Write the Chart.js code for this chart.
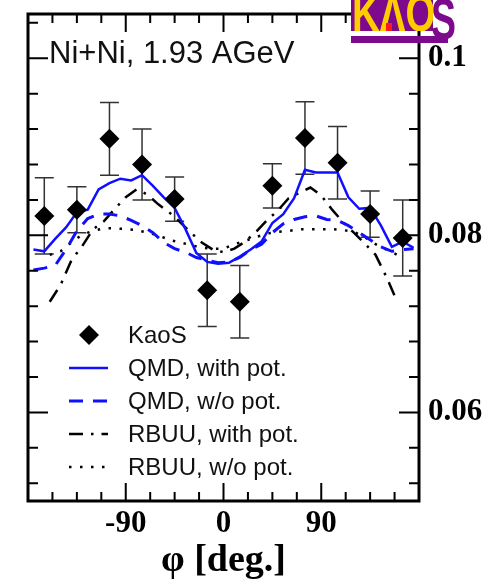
<!DOCTYPE html>
<html><head><meta charset="utf-8">
<script src="https://cdn.jsdelivr.net/npm/chart.js@4.4.0/dist/chart.umd.min.js"></script>
<style>html,body{margin:0;padding:0;background:#fff;} #c{display:block;}</style>
</head><body>
<canvas id="c" width="487" height="584"></canvas>
<script>
// ---- data ----
const phiKaoS = [-165,-135,-105,-75,-45,-15,15,45,75,105,135,165];
const kaosValues = [0.0822,0.0829,0.0909,0.0880,0.0841,0.0738,0.0725,0.0856,0.0910,0.0882,0.0824,0.0797];
const kaosErrors = [0.0043,0.0026,0.0041,0.0040,0.0025,0.0041,0.0041,0.0025,0.0041,0.0041,0.0026,0.0043];

const phiQMD = [-175,-165,-155,-145,-135,-125,-115,-105,-95,-85,-75,-65,-55,-45,-35,-25,-15,-5,5,15,25,35,45,55,65,75,85,95,105,115,125,135,145,155,165,175];
const qmdWithPot = [0.0784,0.0782,0.0796,0.0809,0.0826,0.0829,0.0852,0.0859,0.0864,0.0862,0.0868,0.0856,0.0843,0.0831,0.0807,0.0780,0.0770,0.0768,0.0769,0.0776,0.0784,0.0793,0.0814,0.0824,0.0842,0.0874,0.0871,0.0871,0.0871,0.0843,0.0830,0.0831,0.0811,0.0787,0.0793,0.0786];
const qmdWithoutPot = [0.0761,0.0763,0.0766,0.0784,0.0805,0.0819,0.0824,0.0824,0.0822,0.0817,0.0811,0.0803,0.0792,0.0785,0.0781,0.0775,0.0772,0.0769,0.0770,0.0775,0.0784,0.0790,0.0803,0.0813,0.0818,0.0821,0.0822,0.0818,0.0817,0.0811,0.0803,0.0795,0.0787,0.0782,0.0784,0.0785];

const phiRBUU = [-160,-150,-140,-130,-120,-110,-100,-90,-80,-70,-60,-50,-40,-30,-20,-10,0,10,20,30,40,50,60,70,80,90,100,110,120,130,140,150,160];
const rbuuWithPot = [0.0725,0.0744,0.0772,0.0788,0.0807,0.0816,0.0830,0.0843,0.0852,0.0846,0.0835,0.0826,0.0815,0.0803,0.0792,0.0784,0.0781,0.0785,0.0793,0.0804,0.0817,0.0828,0.0842,0.0848,0.0854,0.0845,0.0829,0.0815,0.0803,0.0791,0.0778,0.0753,0.0725];
const rbuuWithoutPot = [0.0778,0.0782,0.0792,0.0801,0.0805,0.0808,0.0808,0.0807,0.0806,0.0803,0.0800,0.0795,0.0792,0.0789,0.0786,0.0785,0.0785,0.0790,0.0794,0.0798,0.0802,0.0804,0.0805,0.0807,0.0807,0.0807,0.0807,0.0806,0.0804,0.0798,0.0790,0.0784,0.0778];

const xTickValues = [-90,0,90];
const xTickLabels = ['-90','0','90'];
const yTickValues = [0.06,0.08,0.1];
const yTickLabels = ['0.06','0.08','0.1'];
const xMinorTicks = [-157.5,-135,-112.5,-67.5,-45,-22.5,22.5,45,67.5,112.5,135,157.5];
const yMinorTicks = [0.052,0.056,0.064,0.068,0.072,0.076,0.084,0.088,0.092,0.096,0.104];

const seriesLabels = ['KaoS','QMD, with pot.','QMD, w/o pot.','RBUU, with pot.','RBUU, w/o pot.'];
const panelLabel = 'Ni+Ni, 1.93 AGeV';
const xTitle = 'φ [deg.]';

// ---- styles ----
const BLUE = '#1010ff';
const SERIF = '"Liberation Serif", "Times New Roman", serif';
const SANS = '"Liberation Sans", Arial, sans-serif';
const styles = [
  null,
  {color: BLUE, width: 2.5, dash: []},
  {color: BLUE, width: 3, dash: [14, 10]},
  {color: '#000', width: 2.5, dash: [14, 8, 2.5, 8]},
  {color: '#000', width: 2.5, dash: [2.5, 8.5]}
];

function pts(xs, ys) { return xs.map((x, i) => ({x: x, y: ys[i]})); }

const errorBarPlugin = {
  id: 'errorBars',
  beforeDatasetsDraw(chart) {
    const {ctx, scales: {x, y}} = chart;
    ctx.save();
    ctx.strokeStyle = '#333';
    ctx.lineWidth = 1.5;
    phiKaoS.forEach((p, i) => {
      const px = x.getPixelForValue(p);
      const yt = y.getPixelForValue(kaosValues[i] + kaosErrors[i]);
      const yb = y.getPixelForValue(kaosValues[i] - kaosErrors[i]);
      ctx.beginPath();
      ctx.moveTo(px, yt); ctx.lineTo(px, yb);
      ctx.moveTo(px - 9.5, yt); ctx.lineTo(px + 9.5, yt);
      ctx.moveTo(px - 9.5, yb); ctx.lineTo(px + 9.5, yb);
      ctx.stroke();
    });
    ctx.restore();
  }
};

const framePlugin = {
  id: 'frameTicks',
  afterDatasetsDraw(chart) {
    const {ctx, chartArea: a, scales: {x, y}} = chart;
    ctx.save();
    ctx.strokeStyle = '#000';
    ctx.lineWidth = 2;
    const tick = (v, len, axis) => {
      ctx.beginPath();
      if (axis === 'x') {
        const px = x.getPixelForValue(v);
        ctx.moveTo(px, a.bottom); ctx.lineTo(px, a.bottom - len);
        ctx.moveTo(px, a.top); ctx.lineTo(px, a.top + len);
      } else {
        const py = y.getPixelForValue(v);
        ctx.moveTo(a.left, py); ctx.lineTo(a.left + len, py);
        ctx.moveTo(a.right, py); ctx.lineTo(a.right - len, py);
      }
      ctx.stroke();
    };
    xMinorTicks.forEach(v => tick(v, 9, 'x'));
    xTickValues.forEach(v => tick(v, 18, 'x'));
    yMinorTicks.forEach(v => tick(v, 10, 'y'));
    yTickValues.forEach(v => tick(v, 20, 'y'));
    ctx.lineWidth = 3;
    ctx.strokeRect(a.left, a.top, a.right - a.left, a.bottom - a.top);
    ctx.restore();
  }
};

const decorPlugin = {
  id: 'decor',
  afterDraw(chart) {
    const ctx = chart.ctx;
    ctx.save();
    // panel label
    ctx.fillStyle = '#111';
    ctx.font = '31px ' + SANS;
    ctx.textBaseline = 'alphabetic';
    ctx.textAlign = 'left';
    ctx.fillText(panelLabel, 49, 63);

    // legend
    const lx0 = 69, lx1 = 108, tx = 128, y0 = 335, dy = 33;
    ctx.font = '24px ' + SANS;
    ctx.textBaseline = 'middle';
    seriesLabels.forEach((lab, i) => {
      const yy = y0 + i * dy;
      if (i === 0) {
        ctx.fillStyle = '#000';
        ctx.beginPath();
        ctx.moveTo(89 - 10, yy); ctx.lineTo(89, yy - 10); ctx.lineTo(89 + 10, yy); ctx.lineTo(89, yy + 10);
        ctx.closePath(); ctx.fill();
      } else {
        const s = styles[i];
        ctx.strokeStyle = s.color; ctx.lineWidth = s.width; ctx.setLineDash(s.dash);
        ctx.beginPath(); ctx.moveTo(lx0, yy); ctx.lineTo(lx1, yy); ctx.stroke();
        ctx.setLineDash([]);
      }
      ctx.fillStyle = '#111';
      ctx.fillText(lab, tx, yy + 1);
    });

    // KAOS logo
    const purple = '#7d0a8c', yellow = '#ffcc00';
    ctx.fillStyle = purple;
    ctx.fillRect(351, 0, 82, 31);
    ctx.fillRect(351, 36, 97, 7);
    ctx.fillStyle = yellow;
    ctx.font = 'bold 52px ' + SANS;
    ctx.textBaseline = 'alphabetic';
    ctx.save();
    ctx.beginPath(); ctx.rect(351, 0, 82, 31); ctx.clip();
    ctx.translate(352, 31);
    ctx.scale(0.74, 1);
    ctx.fillText('KΛO', 0, 0);
    ctx.restore();
    ctx.fillStyle = '#ff1a1a';
    ctx.fillRect(386, 23, 6, 8);
    ctx.fillStyle = purple;
    ctx.save();
    ctx.translate(431, 39);
    ctx.scale(0.72, 1.1);
    ctx.fillText('S', 0, 0);
    ctx.restore();
    ctx.restore();
  }
};

const serifBold = (size) => ({family: SERIF, size: size, weight: 'bold', lineHeight: 1.2});

new Chart(document.getElementById('c'), {
  type: 'line',
  data: {
    datasets: [
      {label: seriesLabels[0], data: pts(phiKaoS, kaosValues), showLine: false,
       pointStyle: 'rectRot', pointRadius: 10, pointBackgroundColor: '#000', pointBorderWidth: 0, pointBorderColor: '#000'},
      {label: seriesLabels[1], data: pts(phiQMD, qmdWithPot), borderColor: styles[1].color, borderWidth: styles[1].width, borderDash: styles[1].dash, pointRadius: 0, tension: 0, fill: false},
      {label: seriesLabels[2], data: pts(phiQMD, qmdWithoutPot), borderColor: styles[2].color, borderWidth: styles[2].width, borderDash: styles[2].dash, pointRadius: 0, tension: 0, fill: false},
      {label: seriesLabels[3], data: pts(phiRBUU, rbuuWithPot), borderColor: styles[3].color, borderWidth: styles[3].width, borderDash: styles[3].dash, pointRadius: 0, tension: 0, fill: false},
      {label: seriesLabels[4], data: pts(phiRBUU, rbuuWithoutPot), borderColor: styles[4].color, borderWidth: styles[4].width, borderDash: styles[4].dash, pointRadius: 0, tension: 0, fill: false}
    ]
  },
  options: {
    responsive: false,
    animation: false,
    events: [],
    layout: {padding: {left: 28, top: 14, right: 0, bottom: 0}},
    plugins: {legend: {display: false}, tooltip: {enabled: false}, title: {display: false}},
    scales: {
      x: {
        type: 'linear', min: -180, max: 180, position: 'bottom',
        afterBuildTicks: s => { s.ticks = xTickValues.map(v => ({value: v})); },
        afterFit: s => { s.height = 83; s.paddingLeft = 0; s.paddingRight = 0; },
        grid: {display: false, drawTicks: false},
        border: {display: false},
        ticks: {padding: 4, color: '#000', font: serifBold(31), maxRotation: 0, autoSkip: false,
                callback: (v, i) => xTickLabels[i]},
        title: {display: true, text: xTitle, color: '#000', font: serifBold(38), padding: {top: 0, bottom: 0}}
      },
      y: {
        type: 'linear', min: 0.05, max: 0.105, position: 'right',
        afterBuildTicks: s => { s.ticks = yTickValues.map(v => ({value: v})); },
        afterFit: s => { s.width = 68; s.paddingTop = 0; s.paddingBottom = 0; },
        grid: {display: false, drawTicks: false},
        border: {display: false},
        ticks: {padding: 9, color: '#000', font: serifBold(31), autoSkip: false,
                callback: (v, i) => yTickLabels[i]}
      }
    }
  },
  plugins: [errorBarPlugin, framePlugin, decorPlugin]
});
</script>
</body></html>
